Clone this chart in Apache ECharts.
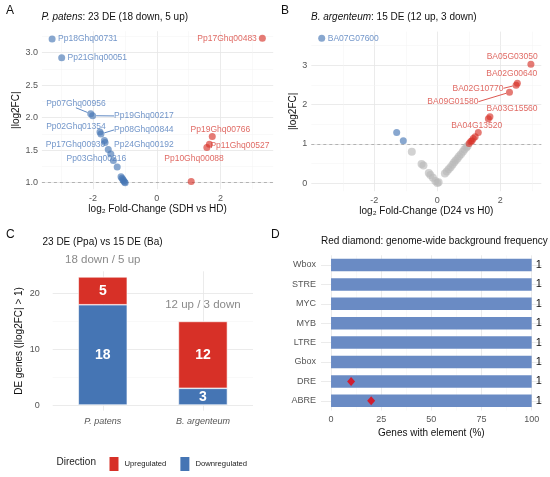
<!DOCTYPE html>
<html>
<head>
<meta charset="utf-8">
<script src="https://cdn.jsdelivr.net/npm/echarts@6/dist/echarts.min.js"></script>
<style>
html, body { margin: 0; padding: 0; background: #fff; }
#chart { width: 550px; height: 477px; }
</style>
</head>
<body>
<div id="chart"></div>
<script>
// ---- A: P. patens (SDH vs HD), log2FC vs |log2FC|
const ppDown = [[-3.28, 3.21], [-2.98, 2.92], [-2.07, 2.06], [-2.01, 2.03], [-1.78, 1.78], [-1.75, 1.75],
  [-1.64, 1.65], [-1.62, 1.62], [-1.52, 1.51], [-1.44, 1.44], [-1.36, 1.34], [-1.24, 1.24],
  [-1.12, 1.09], [-1.09, 1.07], [-1.06, 1.05], [-1.04, 1.03], [-1.01, 1.01], [-0.99, 1.00]];
const ppDownGenes = ['Pp18Ghq00731', 'Pp21Ghq00051', 'Pp07Ghq00956', 'Pp19Ghq00217', 'Pp02Ghq01354', 'Pp08Ghq00844',
  'Pp17Ghq00930', 'Pp24Ghq00192', '', '', 'Pp03Ghq00216', '', '', '', '', '', '', ''];
const ppUp = [[3.31, 3.22], [1.74, 1.71], [1.65, 1.59], [1.57, 1.54], [1.08, 1.02]];
const ppUpGenes = ['Pp17Ghq00483', 'Pp19Ghq00766', 'Pp11Ghq00527', 'Pp10Ghq00088', ''];

// ---- B: B. argenteum (D24 vs H0)
const baDown = [[-3.67, 3.68], [-1.29, 1.29], [-1.08, 1.08]];
const baDownGenes = ['BA07G07600', '', ''];
const baUp = [[2.97, 3.02], [2.54, 2.54], [2.50, 2.49], [2.29, 2.31], [1.67, 1.69], [1.62, 1.64],
  [1.30, 1.29], [1.20, 1.18], [1.14, 1.14], [1.10, 1.08], [1.06, 1.06], [1.01, 1.01]];
const baUpGenes = ['BA05G03050', 'BA02G00640', 'BA02G10770', 'BA09G01580', 'BA03G15560', '',
  'BA04G13520', '', '', '', '', ''];
const baNs = [[-0.81, 0.80], [-0.50, 0.49], [-0.44, 0.45], [-0.27, 0.26], [-0.22, 0.21], [-0.14, 0.14],
  [-0.06, 0.06], [0.00, 0.01], [0.04, 0.03], [0.24, 0.25], [0.30, 0.30], [0.36, 0.36], [0.42, 0.41],
  [0.48, 0.47], [0.53, 0.53], [0.58, 0.58], [0.64, 0.63], [0.69, 0.69], [0.75, 0.74], [0.81, 0.80],
  [0.86, 0.86], [0.92, 0.91], [0.96, 0.95]];

// ---- C: DE gene counts
const species = ['P. patens', 'B. argenteum'];
const downCounts = [18, 3];
const upCounts = [5, 12];
const countNotes = ['18 down / 5 up', '12 up / 3 down'];

// ---- D: promoter elements
const elements = ['ABRE', 'DRE', 'Gbox', 'LTRE', 'MYB', 'MYC', 'STRE', 'Wbox'];
const pctWithElement = [100, 100, 100, 100, 100, 100, 100, 100];
const nWithElement = [1, 1, 1, 1, 1, 1, 1, 1];
const bgElements = ['DRE', 'ABRE'];
const bgPct = [10, 20];

// tick labels / grid lines
const aYTicks = [1.0, 1.5, 2.0, 2.5, 3.0], aYMinor = [1.25, 1.75, 2.25, 2.75, 3.25];
const volXTicks = [-2, 0, 2], volXMinor = [-3, -1, 1, 3];
const bYTicks = [0, 1, 2, 3], bYMinor = [0.5, 1.5, 2.5, 3.5];
const cYTicks = [0, 10, 20], cYMinor = [5, 15];
const dXTicks = [0, 25, 50, 75, 100], dXMinor = [12.5, 37.5, 62.5, 87.5];

// label nudges (px from point centre), third flag = draw segment
const nudge = {
  'Pp18Ghq00731': [35.7, 0], 'Pp21Ghq00051': [35.6, 0], 'Pp07Ghq00956': [-14.8, -10.5, 1],
  'Pp19Ghq00217': [51.2, 0.2, 1], 'Pp02Ghq01354': [-24, -5], 'Pp08Ghq00844': [42.9, -4, 1],
  'Pp17Ghq00930': [-28.9, 3.9], 'Pp24Ghq00192': [38.8, 1.9], 'Pp03Ghq00216': [-17, -1.6],
  'Pp17Ghq00483': [-35.3, 0], 'Pp19Ghq00766': [8.1, -7.3], 'Pp11Ghq00527': [30.5, 1.3],
  'Pp10Ghq00088': [-12.8, 11.1],
  'BA07G07600': [31.6, 0], 'BA05G03050': [-18.7, -7.6], 'BA02G00640': [-5.6, -9.9],
  'BA02G10770': [-38.1, 3.1, 1], 'BA09G01580': [-56.6, 9.4, 1], 'BA03G15560': [22.1, -8.4],
  'BA04G13520': [-1.6, -6.5]
};

const FONT = "'Liberation Sans', Arial, sans-serif";
const BLUE = '#4575B4', RED = '#D73027';
const AXIS_TXT = '#555';

function tickFmt(ticks, digits) {
  return v => ticks.some(t => Math.abs(t - v) < 1e-6) ? v.toFixed(digits) : '';
}

function valueAxis(idx, min, max, interval, ticks, digits, extra) {
  return Object.assign({
    type: 'value', gridIndex: idx, min: min, max: max, interval: interval,
    axisLine: { show: false }, axisTick: { show: false }, splitLine: { show: false },
    axisLabel: { formatter: tickFmt(ticks, digits), color: AXIS_TXT, fontSize: 9, margin: 4 },
    nameTextStyle: { color: '#111', fontSize: 10 }
  }, extra || {});
}

function gridLines(idx, xs, ys, xMinor, yMinor) {
  const major = { color: '#e6e6e6', width: 0.8 };
  const minor = { color: '#f2f2f2', width: 0.5 };
  const d = [];
  xs.forEach(v => d.push({ xAxis: v, lineStyle: major }));
  ys.forEach(v => d.push({ yAxis: v, lineStyle: major }));
  (xMinor || []).forEach(v => d.push({ xAxis: v, lineStyle: minor }));
  (yMinor || []).forEach(v => d.push({ yAxis: v, lineStyle: minor }));
  return {
    type: 'line', xAxisIndex: idx, yAxisIndex: idx, data: [], silent: true, z: 0,
    markLine: { silent: true, symbol: 'none', z: 0, animation: false, label: { show: false },
      lineStyle: { type: 'solid' }, data: d }
  };
}

function cutoffLine(idx) {
  return {
    type: 'line', xAxisIndex: idx, yAxisIndex: idx, data: [], silent: true, z: 1,
    markLine: { silent: true, symbol: 'none', z: 1, animation: false, label: { show: false },
      lineStyle: { color: '#9a9a9a', width: 0.7, type: [3, 3] }, data: [{ yAxis: 1 }] }
  };
}

function volcano(idx, vals, genes, fill, txt, size) {
  return {
    type: 'scatter', xAxisIndex: idx, yAxisIndex: idx, symbolSize: size, z: 3,
    itemStyle: { color: fill },
    label: { show: false, position: 'inside', formatter: '{b}', color: txt, fontSize: 8.5, fontFamily: FONT },
    labelLine: { show: false, lineStyle: { color: txt, width: 0.9 } },
    labelLayout: p => {
      const n = nudge[genes[p.dataIndex]];
      return n ? { dx: n[0], dy: n[1] } : {};
    },
    data: vals.map((v, i) => ({
      value: v, name: genes[i] || '',
      label: { show: !!genes[i] },
      labelLine: { show: !!(nudge[genes[i]] && nudge[genes[i]][2]) }
    }))
  };
}

const letter = (t, left, top) => ({ text: t, left: left, top: top, padding: 0,
  textStyle: { fontSize: 12, fontWeight: 'normal', color: '#111', fontFamily: FONT } });
const heading = (t, left, top) => ({ text: t, left: left, top: top, padding: 0,
  textStyle: { fontSize: 10, fontWeight: 'normal', color: '#111', fontFamily: FONT,
    rich: { i: { fontStyle: 'italic', fontSize: 10, color: '#111', fontFamily: FONT } } } });

const option = {
  animation: false,
  backgroundColor: '#fff',
  textStyle: { fontFamily: FONT },
  title: [
    letter('A', 6, 5), heading('{i|P. patens}: 23 DE (18 down, 5 up)', 41.5, 12.5),
    letter('B', 281, 5), heading('{i|B. argenteum}: 15 DE (12 up, 3 down)', 311, 12.5),
    letter('C', 6, 229), heading('23 DE (Ppa) vs 15 DE (Ba)', 42.5, 237.5),
    letter('D', 271, 229), heading('Red diamond: genome-wide background frequency', 321, 236.5),
    { text: 'Direction', left: 56.5, top: 457, padding: 0,
      textStyle: { fontSize: 10, fontWeight: 'normal', color: '#222', fontFamily: FONT } }
  ],
  legend: {
    data: ['Upregulated', 'Downregulated'], left: 107.5, top: 455, padding: 0,
    icon: 'rect', itemWidth: 11, itemHeight: 16, itemGap: 12,
    textStyle: { fontSize: 7.7, color: '#222' }, selectedMode: false
  },
  grid: [
    { left: 41.9, top: 31.2, width: 231.3, height: 158 },
    { left: 311.3, top: 31.6, width: 230, height: 159.6 },
    { left: 52.7, top: 271.3, width: 200.3, height: 139.3 },
    { left: 321, top: 255.3, width: 220.7, height: 155.2 }
  ],
  xAxis: [
    valueAxis(0, -3.6, 3.65, 0.1, volXTicks, 0, {
      name: 'log₂ Fold-Change (SDH vs HD)', nameLocation: 'middle', nameGap: 15,
      axisLabel: { formatter: tickFmt(volXTicks, 0), color: AXIS_TXT, fontSize: 9, margin: 5 } }),
    valueAxis(1, -4, 3.3, 0.1, volXTicks, 0, {
      name: 'log₂ Fold-Change (D24 vs H0)', nameLocation: 'middle', nameGap: 15,
      axisLabel: { formatter: tickFmt(volXTicks, 0), color: AXIS_TXT, fontSize: 9, margin: 5 } }),
    { type: 'category', gridIndex: 2, data: species,
      axisLine: { show: false }, axisTick: { show: false },
      axisLabel: { color: AXIS_TXT, fontSize: 9, fontStyle: 'italic', margin: 6 } },
    valueAxis(3, -5, 105, 5, dXTicks, 0, {
      name: 'Genes with element (%)', nameLocation: 'middle', nameGap: 18,
      axisLabel: { formatter: tickFmt(dXTicks, 0), color: AXIS_TXT, fontSize: 9, margin: 5 } })
  ],
  yAxis: [
    valueAxis(0, 0.9, 3.33, 0.01, aYTicks, 1, { name: '|log2FC|', nameLocation: 'middle', nameGap: 15 }),
    valueAxis(1, -0.2, 3.85, 0.05, bYTicks, 0, { name: '|log2FC|', nameLocation: 'middle', nameGap: 9,
      axisLabel: { formatter: tickFmt(bYTicks, 0), color: AXIS_TXT, fontSize: 9, margin: 4 } }),
    valueAxis(2, -1, 24, 1, cYTicks, 0, { name: 'DE genes (|log2FC| > 1)', nameLocation: 'middle', nameGap: 28,
      axisLabel: { formatter: tickFmt(cYTicks, 0), color: AXIS_TXT, fontSize: 9, margin: 13 } }),
    { type: 'category', gridIndex: 3, data: elements,
      axisLine: { show: false }, axisTick: { show: false },
      axisLabel: { color: AXIS_TXT, fontSize: 9, margin: 5 } }
  ],
  series: [
    gridLines(0, volXTicks, aYTicks, volXMinor, aYMinor),
    gridLines(1, volXTicks, bYTicks, volXMinor, bYMinor),
    gridLines(2, species.map((s, i) => i), cYTicks, [], cYMinor),
    gridLines(3, dXTicks, elements.map((e, i) => i), dXMinor, []),
    cutoffLine(0),
    cutoffLine(1),
    volcano(0, ppDown, ppDownGenes, 'rgba(69,117,180,0.8)', '#4d7bbb', 7),
    volcano(0, ppUp, ppUpGenes, 'rgba(215,48,39,0.8)', '#d8453d', 7),
    volcano(1, baNs, [], 'rgba(185,185,185,0.8)', '#999', 8),
    volcano(1, baDown, baDownGenes, 'rgba(69,117,180,0.8)', '#4d7bbb', 7),
    volcano(1, baUp, baUpGenes, 'rgba(215,48,39,0.8)', '#d8453d', 7),
    {
      type: 'bar', name: 'Downregulated', xAxisIndex: 2, yAxisIndex: 2, stack: 'de', barWidth: 49, z: 2,
      itemStyle: { color: BLUE, borderColor: '#fff', borderWidth: 0.6 },
      label: { show: true, position: 'inside', color: '#fff', fontSize: 14, fontWeight: 'bold' },
      data: downCounts
    },
    {
      type: 'bar', name: 'Upregulated', xAxisIndex: 2, yAxisIndex: 2, stack: 'de', barWidth: 49, z: 2,
      itemStyle: { color: RED, borderColor: '#fff', borderWidth: 0.6 },
      label: { show: true, position: 'inside', color: '#fff', fontSize: 14, fontWeight: 'bold' },
      data: upCounts
    },
    {
      type: 'scatter', xAxisIndex: 2, yAxisIndex: 2, symbolSize: 1, clip: false, silent: true, z: 4,
      itemStyle: { color: 'rgba(0,0,0,0)' },
      label: { show: true, position: 'inside', color: '#6b6b6b', fontSize: 11.5,
        formatter: p => countNotes[p.dataIndex] },
      data: species.map((s, i) => [i, downCounts[i] + upCounts[i] + 3])
    },
    {
      type: 'bar', xAxisIndex: 3, yAxisIndex: 3, barWidth: 12.5, z: 2,
      itemStyle: { color: '#6a8bc4' },
      label: { show: true, position: 'right', distance: 4, color: '#111', fontSize: 11,
        formatter: p => String(nWithElement[p.dataIndex]) },
      data: pctWithElement
    },
    {
      type: 'scatter', xAxisIndex: 3, yAxisIndex: 3, symbol: 'diamond', symbolSize: [8, 9], z: 4,
      itemStyle: { color: '#e8000b' },
      data: bgElements.map((e, i) => [bgPct[i], e])
    }
  ]
};

const chart = echarts.init(document.getElementById('chart'));
chart.setOption(option);
</script>
</body>
</html>
